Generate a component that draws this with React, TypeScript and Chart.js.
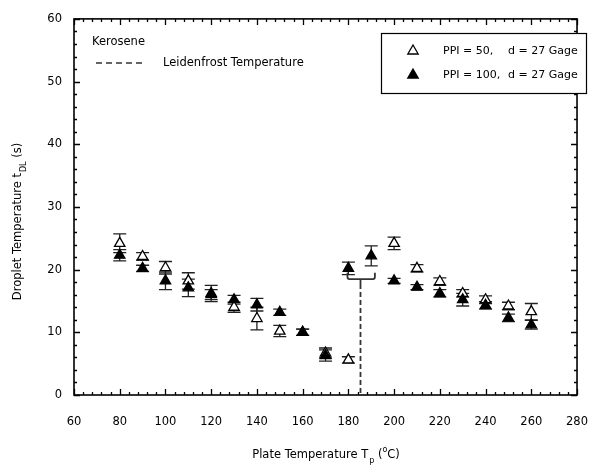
import { useEffect, useRef } from "react";
import { Chart, registerables } from "chart.js";

Chart.register(...registerables);

// PPI = 50, d = 27 Gage (open triangles)
const temps50 = [80, 90, 100, 110, 120, 130, 140, 150, 160, 170, 180, 200, 210, 220, 230, 240, 250, 260];
const time50 = [24.2, 22.1, 20.3, 18.2, 16.0, 14.0, 12.2, 10.2, 10.0, 6.7, 5.6, 24.2, 20.2, 18.1, 16.2, 15.2, 14.2, 13.3];
const err50 = [1.5, 0.6, 1.0, 1.3, 0.8, 0.8, 1.8, 0.9, 0.5, 0.8, 0.5, 1.0, 0.6, 0.6, 0.6, 0.6, 0.6, 1.3];

// PPI = 100, d = 27 Gage (filled triangles)
const temps100 = [80, 90, 100, 110, 120, 130, 140, 150, 160, 170, 180, 190, 200, 210, 220, 230, 240, 250, 260];
const time100 = [22.3, 20.2, 18.2, 17.1, 16.2, 15.2, 14.4, 13.2, 10.0, 6.3, 20.2, 22.2, 18.2, 17.2, 16.2, 15.2, 14.3, 12.3, 11.2];
const err100 = [0.9, 0.5, 1.4, 1.4, 1.3, 0.7, 1.0, 0.5, 0.5, 0.9, 1.0, 1.6, 0.4, 0.4, 0.6, 1.0, 0.6, 0.6, 0.7];

// Leidenfrost marker
const leidenfrostT = 185.3;
const bracketLeft = 179.6;
const bracketRight = 191.6;
const bracketLow = 18.5;
const bracketHigh = 19.5;

// axes
const xMin = 60, xMax = 280, xStep = 20, xMinorStep = 4;
const yMin = 0, yMax = 60, yStep = 10, yMinorStep = 2;

const legendLabels = ["PPI = 50,", "PPI = 100,"];
const legendSuffix = "d = 27 Gage";
const FONT = "'DejaVu Sans', sans-serif";

function tri(ctx: CanvasRenderingContext2D, x: number, y: number, r: number, filled: boolean) {
  ctx.beginPath();
  let rad = 0;
  for (let i = 0; i < 3; i++) {
    const px = x + Math.sin(rad) * r;
    const py = y - Math.cos(rad) * r;
    if (i === 0) ctx.moveTo(px, py); else ctx.lineTo(px, py);
    rad += (2 * Math.PI) / 3;
  }
  ctx.closePath();
  ctx.fillStyle = filled ? "#000" : "#fff";
  ctx.fill();
  ctx.lineWidth = 1.3;
  ctx.strokeStyle = "#000";
  ctx.stroke();
}

const decorPlugin = {
  id: "decor",
  beforeDatasetsDraw(chart: any) {
    const { ctx, scales } = chart;
    const xs = scales.x, ys = scales.y;
    ctx.save();
    ctx.strokeStyle = "#222";
    ctx.lineWidth = 1.3;
    const drawErr = (xv: number[], yv: number[], ev: number[]) => {
      for (let i = 0; i < xv.length; i++) {
        const px = xs.getPixelForValue(xv[i]);
        const top = ys.getPixelForValue(yv[i] + ev[i]);
        const bot = ys.getPixelForValue(yv[i] - ev[i]);
        ctx.beginPath();
        ctx.moveTo(px, top); ctx.lineTo(px, bot);
        ctx.moveTo(px - 6.5, top); ctx.lineTo(px + 6.5, top);
        ctx.moveTo(px - 6.5, bot); ctx.lineTo(px + 6.5, bot);
        ctx.stroke();
      }
    };
    drawErr(temps50, time50, err50);
    drawErr(temps100, time100, err100);

    // Leidenfrost bracket + dashed line
    const bl = xs.getPixelForValue(bracketLeft);
    const br = xs.getPixelForValue(bracketRight);
    const by = ys.getPixelForValue(bracketLow);
    const bh = ys.getPixelForValue(bracketHigh);
    const lx = xs.getPixelForValue(leidenfrostT);
    ctx.strokeStyle = "#333";
    ctx.lineWidth = 1.8;
    ctx.beginPath();
    ctx.moveTo(bl, bh);
    ctx.lineTo(bl, by - 2);
    ctx.quadraticCurveTo(bl, by, bl + 2, by);
    ctx.lineTo(br - 2, by);
    ctx.quadraticCurveTo(br, by, br, by - 2);
    ctx.lineTo(br, bh);
    ctx.moveTo(lx, by);
    ctx.lineTo(lx, by + 5);
    ctx.stroke();
    ctx.setLineDash([5, 3]);
    ctx.beginPath();
    ctx.moveTo(lx, by + 5);
    ctx.lineTo(lx, ys.getPixelForValue(yMin));
    ctx.stroke();
    ctx.restore();
  },
  afterDraw(chart: any) {
    const { ctx, scales, chartArea: a } = chart;
    const xs = scales.x, ys = scales.y;
    ctx.save();
    // frame
    ctx.strokeStyle = "#000";
    ctx.lineWidth = 1.6;
    ctx.strokeRect(a.left, a.top, a.right - a.left, a.bottom - a.top);
    // ticks inward
    ctx.lineWidth = 1.3;
    ctx.beginPath();
    for (let v = xMin; v <= xMax + 1e-6; v += xMinorStep) {
      const major = Math.abs((v - xMin) % xStep) < 1e-6;
      const len = major ? 6 : 3;
      const px = Math.round(xs.getPixelForValue(v)) + 0.5;
      ctx.moveTo(px, a.bottom); ctx.lineTo(px, a.bottom - len);
      ctx.moveTo(px, a.top); ctx.lineTo(px, a.top + len);
    }
    for (let v = yMin; v <= yMax + 1e-6; v += yMinorStep) {
      const major = Math.abs((v - yMin) % yStep) < 1e-6;
      const len = major ? 6 : 3;
      const py = Math.round(ys.getPixelForValue(v)) + 0.5;
      ctx.moveTo(a.left, py); ctx.lineTo(a.left + len, py);
      ctx.moveTo(a.right, py); ctx.lineTo(a.right - len, py);
    }
    ctx.stroke();

    // annotations top-left
    ctx.fillStyle = "#000";
    ctx.font = `11.5px ${FONT}`;
    ctx.textBaseline = "middle";
    ctx.textAlign = "left";
    ctx.fillText("Kerosene", 92, 42);
    ctx.fillText("Leidenfrost Temperature", 163, 63);
    ctx.strokeStyle = "#333";
    ctx.lineWidth = 1.6;
    ctx.setLineDash([6, 4]);
    ctx.beginPath();
    ctx.moveTo(96, 63); ctx.lineTo(143, 63);
    ctx.stroke();
    ctx.setLineDash([]);

    // legend box
    ctx.fillStyle = "#fff";
    ctx.fillRect(381, 33, 205, 60);
    ctx.strokeStyle = "#000";
    ctx.lineWidth = 1.2;
    ctx.strokeRect(381.5, 33.5, 205, 60);
    const rows = [51, 75];
    for (let i = 0; i < 2; i++) {
      tri(ctx, 413, rows[i], 6, i === 1);
      ctx.fillStyle = "#000";
      ctx.font = `11px ${FONT}`;
      ctx.fillText(legendLabels[i], 443, rows[i]);
      ctx.fillText(legendSuffix, 508, rows[i]);
    }

    // x axis title with subscript/superscript
    const bigFont = `11.5px ${FONT}`;
    const smallFont = `8px ${FONT}`;
    ctx.font = bigFont;
    const part1 = "Plate Temperature T";
    const sub = "p";
    const part2 = " (";
    const sup = "o";
    const part3 = "C)";
    const w1 = ctx.measureText(part1).width;
    const w2 = ctx.measureText(part2).width;
    const w3 = ctx.measureText(part3).width;
    ctx.font = smallFont;
    const ws = ctx.measureText(sub).width;
    const wsp = ctx.measureText(sup).width;
    const total = w1 + ws + w2 + wsp + w3;
    let cx = (a.left + a.right) / 2 - total / 2;
    const ty = 455;
    ctx.textBaseline = "middle";
    ctx.font = bigFont;
    ctx.fillText(part1, cx, ty); cx += w1;
    ctx.font = smallFont;
    ctx.fillText(sub, cx + 1, ty + 6); cx += ws + 1;
    ctx.font = bigFont;
    ctx.fillText(part2, cx, ty); cx += w2;
    ctx.font = smallFont;
    ctx.fillText(sup, cx, ty - 5); cx += wsp;
    ctx.font = bigFont;
    ctx.fillText(part3, cx, ty);

    // y axis title rotated
    ctx.save();
    ctx.translate(18, 222);
    ctx.rotate(-Math.PI / 2);
    const y1 = "Droplet Temperature t";
    const ysub = "DL";
    const y2 = " (s)";
    ctx.font = bigFont;
    const yw1 = ctx.measureText(y1).width;
    const yw2 = ctx.measureText(y2).width;
    ctx.font = smallFont;
    const ywsub = ctx.measureText(ysub).width;
    const ytotal = yw1 + ywsub + yw2;
    let yx = -ytotal / 2;
    ctx.font = bigFont;
    ctx.fillText(y1, yx, 0); yx += yw1;
    ctx.font = smallFont;
    ctx.fillText(ysub, yx + 1, 6); yx += ywsub + 1;
    ctx.font = bigFont;
    ctx.fillText(y2, yx, 0);
    ctx.restore();

    ctx.restore();
  },
};

export default function App() {
  const ref = useRef<HTMLCanvasElement | null>(null);
  useEffect(() => {
    document.body.style.margin = "0";
    const canvas = ref.current;
    if (!canvas) return;
    const chart = new Chart(canvas, {
      type: "scatter",
      data: {
        datasets: [
          {
            label: "PPI = 100, d = 27 Gage",
            data: temps100.map((t, i) => ({ x: t, y: time100[i] })),
            pointStyle: "triangle",
            pointRadius: 6,
            pointBackgroundColor: "#000",
            pointBorderColor: "#000",
            pointBorderWidth: 1.3,
            showLine: false,
            order: 0,
          },
          {
            label: "PPI = 50, d = 27 Gage",
            data: temps50.map((t, i) => ({ x: t, y: time50[i] })),
            pointStyle: "triangle",
            pointRadius: 6,
            pointBackgroundColor: "#fff",
            pointBorderColor: "#000",
            pointBorderWidth: 1.3,
            showLine: false,
            order: 1,
          },
        ],
      },
      options: {
        responsive: false,
        animation: false,
        devicePixelRatio: 1,
        layout: { padding: { top: 17, right: 12, left: 0, bottom: 0 } },
        plugins: { legend: { display: false }, tooltip: { enabled: false } },
        scales: {
          x: {
            type: "linear",
            min: xMin,
            max: xMax,
            grid: { display: false, drawTicks: false },
            border: { display: false },
            ticks: { stepSize: xStep, color: "#000", font: { family: FONT, size: 11.5 }, padding: 20 },
            afterFit: (s: any) => { s.height = 72; },
          },
          y: {
            type: "linear",
            min: yMin,
            max: yMax,
            grid: { display: false, drawTicks: false },
            border: { display: false },
            ticks: { stepSize: yStep, color: "#000", font: { family: FONT, size: 11.5 }, padding: 12 },
            afterFit: (s: any) => { s.width = 74; },
          },
        },
      },
      plugins: [decorPlugin],
    });
    return () => chart.destroy();
  }, []);
  return <canvas ref={ref} width={608} height={467} style={{ display: "block" }} />;
}
